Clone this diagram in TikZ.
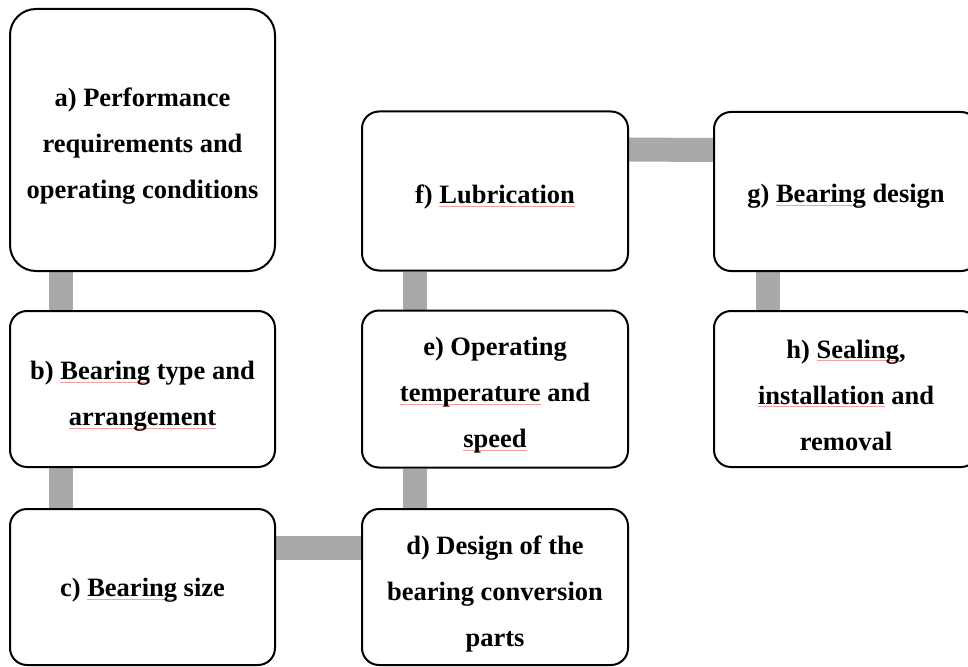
\documentclass[tikz,border=0pt]{standalone}
\usepackage{fontspec}
\setmainfont{Liberation Serif}
\usetikzlibrary{calc}
\pgfdeclarelayer{background}
\pgfsetlayers{background,main}
\definecolor{linkgray}{HTML}{A9A9A9}
\definecolor{sqred}{HTML}{F4A0A0}
\newcommand\squig[1]{\leavevmode\setbox0\hbox{#1}\rlap{\color{sqred}\rule[-3pt]{\wd0}{0.6pt}}\box0\relax}
\tikzset{
  box/.style={draw=black, line width=2pt, rounded corners=17pt, fill=white,
    minimum width=265pt, inner sep=0pt},
  bigbox/.style={box, rounded corners=26pt},
  txt/.style={align=center, inner sep=0pt,
    font=\fontsize{26.5}{46}\selectfont\bfseries},
  link/.style={draw=linkgray, line width=24pt}
}
\begin{document}
\begin{tikzpicture}[x=1pt,y=-1pt]
\useasboundingbox (0,0) rectangle (968,666);
\clip (0,0) rectangle (968,666);
% boxes
\node[bigbox, minimum height=262pt] (a) at (142.5,140) {};
\node[box, minimum height=156pt] (b) at (142.5,389) {};
\node[box, minimum height=156pt] (c) at (142.5,587) {};
\node[box, minimum width=266pt, minimum height=156pt] (d) at (495,587) {};
\node[box, minimum width=266pt, minimum height=157pt] (e) at (495,389) {};
\node[box, minimum width=266pt, minimum height=159pt] (f) at (495,191) {};
\node[box, minimum width=264pt, minimum height=159pt] (g) at (846,191.5) {};
\node[box, minimum width=264pt, minimum height=156pt] (h) at (846,389) {};
% texts
\node[txt] (at) at ($(a.center)+(0,6)$) {a) Performance\\requirements and\\operating conditions};
\node[txt] (bt) at ($(b.center)+(0,7)$) {b) \squig{Bearing} type and\\\squig{arrangement}};
\node[txt] (ct) at ($(c.center)+(0,3)$) {c) \squig{Bearing} size};
\node[txt] (dt) at ($(d.center)+(0,7)$) {d) Design of the\\bearing conversion\\parts};
\node[txt] (et) at ($(e.center)+(0,6)$) {e) Operating\\\squig{temperature} and\\\squig{speed}};
\node[txt] (ft) at ($(f.center)+(0,6)$) {f) \squig{Lubrication}};
\node[txt] (gt) at ($(g.center)+(0,5)$) {g) \squig{Bearing} design};
\node[txt] (ht) at ($(h.center)+(0,6)$) {h) \squig{Sealing},\\\squig{installation} and\\removal};
% connectors
\begin{pgfonlayer}{background}
\draw[link] ($(a.south west)+(52,0)$) -- ($(b.north west)+(52,0)$);
\draw[link] ($(b.south west)+(52,0)$) -- ($(c.north west)+(52,0)$);
\draw[link] ($(c.north east)+(0,40)$) -- ($(d.north west)+(0,40)$);
\draw[link] ($(d.north west)+(54,0)$) -- ($(e.south west)+(54,0)$);
\draw[link] ($(e.north west)+(54,0)$) -- ($(f.south west)+(54,0)$);
\draw[link] ($(f.north east)+(0,39)$) -- ($(g.north west)+(0,39)$);
\draw[link] ($(g.south west)+(55,0)$) -- ($(h.north west)+(55,0)$);
\end{pgfonlayer}
\end{tikzpicture}
\end{document}
